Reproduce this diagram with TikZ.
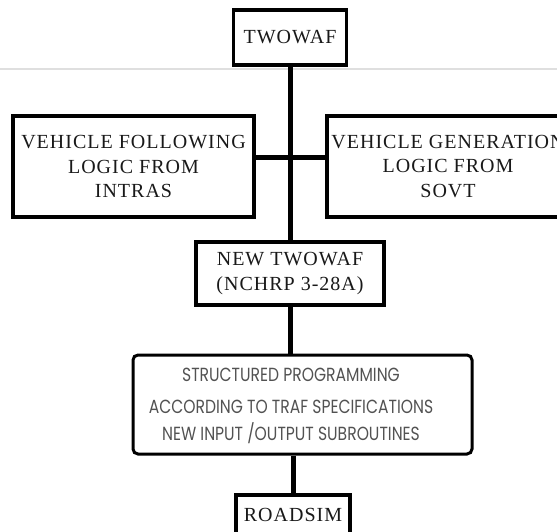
\documentclass[tikz,border=0pt]{standalone}
\usepackage{fontspec}
\setmainfont{Liberation Serif}[LetterSpace=5]
\newfontfamily\structfont{Poppins}[FakeStretch=0.82]
\begin{document}
\begin{tikzpicture}[x=1pt, y=-1pt,
    every node/.style={font=\fontsize{20}{24.5}\selectfont, text=black!90},
    prog/.style={draw, line width=3.8pt, inner sep=0pt, align=center},
    link/.style={line width=5pt}]
    \useasboundingbox (0,0) rectangle (557,531);
    \draw[gray!25, line width=1.5pt] (0,69) -- (557,69);

    \node[prog, minimum width=113, minimum height=55] (twowaf) at (290,37.5) {TWOWAF};

    \node[prog, minimum width=241, minimum height=101] (follow) at (133.5,166.5) {VEHICLE FOLLOWING\\LOGIC FROM\\INTRAS};
    \node[prog, minimum width=242, minimum height=101] (generation) at (448,166.5) {VEHICLE GENERATION\\LOGIC FROM\\SOVT};

    \node[prog, minimum width=188, minimum height=63] (newtwowaf) at (290,273.5) {NEW TWOWAF\\(NCHRP 3-28A)};

    % text sits a little left of the box centre
    \node[prog, line width=3pt, rounded corners=5pt, minimum width=339, minimum height=99,
          font=\structfont\fontsize{19}{30}\selectfont, text=black!68] (structured) at (302.5,404.5)
          {\begin{tabular}{@{}c@{}}STRUCTURED PROGRAMMING\\[2pt]ACCORDING TO TRAF SPECIFICATIONS\\[-3pt]NEW INPUT /OUTPUT SUBROUTINES\end{tabular}\hspace{23pt}};

    \node[prog, minimum width=114, minimum height=40] (roadsim) at (293,515) {ROADSIM};

    \draw[link] (twowaf.south) -- (newtwowaf.north);
    \draw[link] ([yshift=9.5pt]follow.east) -- ([yshift=9.5pt]generation.west);
    \draw[link] (newtwowaf.south) -- (newtwowaf.south |- structured.north);
    \draw[link] (structured.south -| roadsim.north) -- (roadsim.north);
\end{tikzpicture}
\end{document}
